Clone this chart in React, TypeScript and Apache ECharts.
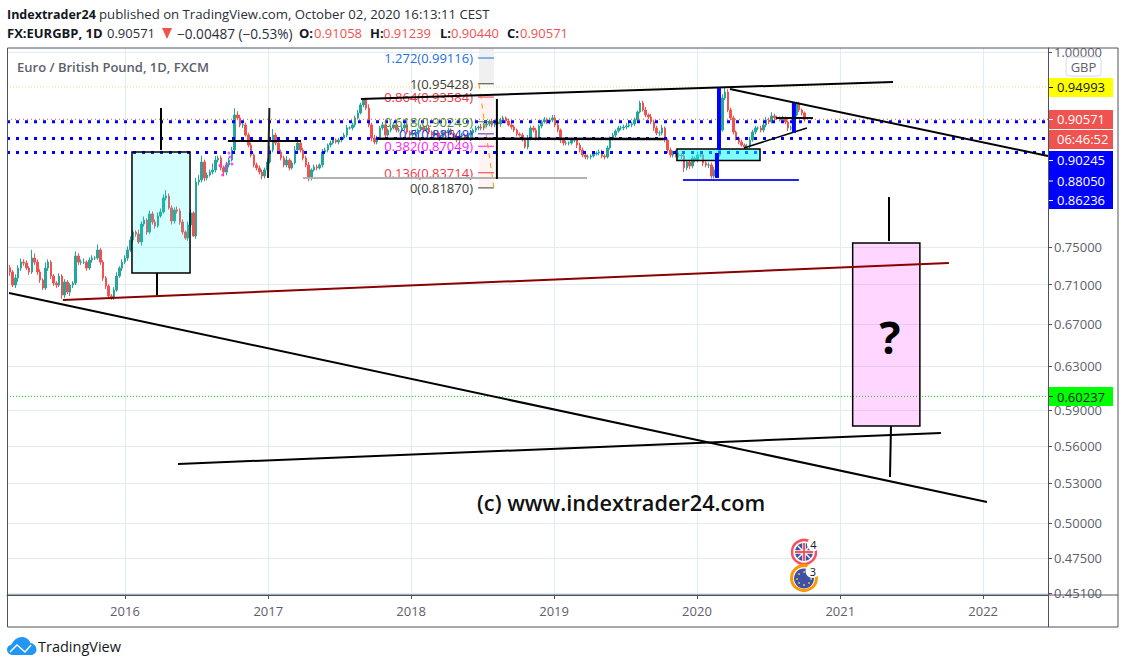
import React, { useEffect, useRef } from "react";
import * as echarts from "echarts";

const DAY = 86400000;
// chart drawings are kept in decimal years, the axis wants ms
const yr = (y: number) => Date.UTC(2016, 0, 1) + (y - 2016) * 365.25 * DAY;

const firstBar = Date.UTC(2015, 2, 13);

// weekly closes
const closes = [
  0.7234, 0.7096, 0.717, 0.7276, 0.734, 0.733, 0.7276, 0.7234,
  0.7384, 0.734, 0.7234, 0.7149, 0.7066, 0.7276, 0.734, 0.7191,
  0.7117, 0.7096, 0.7191, 0.6993, 0.7128, 0.7024, 0.7096, 0.7117,
  0.7406, 0.734, 0.734, 0.734, 0.7276, 0.7362, 0.7384, 0.7384,
  0.7472, 0.734, 0.717, 0.7086, 0.6983, 0.6973, 0.7045, 0.7191,
  0.7276, 0.734, 0.7384, 0.7472, 0.7583, 0.7672, 0.765, 0.7561,
  0.7763, 0.7809, 0.7672, 0.7879, 0.7786, 0.7741, 0.7856, 0.7903,
  0.8067, 0.809, 0.7949, 0.7798, 0.7926, 0.7914, 0.7786, 0.7672,
  0.7605, 0.7752, 0.7891, 0.7628, 0.8259, 0.8283, 0.8505, 0.8308,
  0.8344, 0.8381, 0.8406, 0.853, 0.8555, 0.8431, 0.8381, 0.8468,
  0.853, 0.8657, 0.9115, 0.9075, 0.8982, 0.8982, 0.8849, 0.872,
  0.8593, 0.8468, 0.8431, 0.8381, 0.8332, 0.8406, 0.8505, 0.8657,
  0.8849, 0.8746, 0.8631, 0.8555, 0.8468, 0.853, 0.8431, 0.8493,
  0.8657, 0.8746, 0.8657, 0.8555, 0.8468, 0.8308, 0.8406, 0.8443,
  0.8431, 0.8468, 0.8631, 0.8657, 0.872, 0.8746, 0.8785, 0.8759,
  0.8785, 0.881, 0.8849, 0.8942, 0.8942, 0.8982, 0.9075, 0.9142,
  0.925, 0.9318, 0.9209, 0.8982, 0.881, 0.8759, 0.881, 0.8942,
  0.8982, 0.8849, 0.8915, 0.8942, 0.8982, 0.8915, 0.8915, 0.8942,
  0.8982, 0.8889, 0.8849, 0.8862, 0.8889, 0.8915, 0.8955, 0.8915,
  0.8942, 0.8889, 0.8849, 0.8876, 0.8849, 0.8823, 0.8889, 0.8876,
  0.8915, 0.8876, 0.8823, 0.8785, 0.8836, 0.8849, 0.881, 0.8849,
  0.8876, 0.8915, 0.8942, 0.8955, 0.8942, 0.8982, 0.8995, 0.9022,
  0.8982, 0.9022, 0.8995, 0.9048, 0.9075, 0.9035, 0.8982, 0.8955,
  0.8915, 0.8862, 0.8849, 0.8785, 0.8695, 0.881, 0.8942, 0.8915,
  0.881, 0.8968, 0.9022, 0.9048, 0.9022, 0.9048, 0.9075, 0.8982,
  0.8915, 0.8785, 0.8746, 0.8746, 0.8746, 0.8785, 0.8785, 0.872,
  0.8657, 0.8593, 0.8568, 0.8568, 0.8581, 0.8606, 0.8619, 0.8631,
  0.8581, 0.8568, 0.8682, 0.881, 0.8849, 0.8902, 0.8942, 0.8942,
  0.8955, 0.8968, 0.8982, 0.8995, 0.9048, 0.9155, 0.9277, 0.9182,
  0.9115, 0.9088, 0.9022, 0.8942, 0.8876, 0.8876, 0.8942, 0.8785,
  0.8657, 0.8593, 0.8619, 0.8593, 0.8593, 0.8581, 0.8431, 0.8505,
  0.8456, 0.8555, 0.853, 0.8593, 0.8593, 0.8493, 0.8468, 0.8468,
  0.8332, 0.8406, 0.8593, 0.8915, 0.9346, 0.9428, 0.9182, 0.9075,
  0.8889, 0.881, 0.8759, 0.872, 0.8695, 0.8707, 0.8785, 0.8889,
  0.8942, 0.8942, 0.8915, 0.8982, 0.9048, 0.9022, 0.9102, 0.9075,
  0.9075, 0.9048, 0.9075, 0.9022, 0.8942, 0.8942, 0.9115, 0.9264,
  0.9182, 0.9142, 0.90571,
];

// wick lengths above / below the body, in thousandths of a pound
const upWicks = [
  3, 2, 4, 3, 4, 3, 3, 2, 9, 5, 3, 3, 2, 6, 3, 2,
  2, 2, 3, 2, 3, 2, 2, 2, 5, 3, 3, 4, 2, 3, 3, 2,
  6, 2, 2, 2, 2, 2, 3, 4, 2, 3, 3, 4, 4, 2, 2, 5,
  3, 4, 2, 4, 3, 3, 4, 4, 4, 7, 3, 3, 3, 4, 3, 3,
  2, 4, 4, 2, 5, 6, 8, 3, 3, 3, 8, 5, 3, 3, 3, 4,
  3, 4, 9, 5, 4, 4, 3, 3, 3, 2, 3, 3, 3, 3, 4, 5,
  8, 3, 3, 3, 3, 5, 2, 3, 5, 3, 3, 3, 3, 4, 2, 3,
  3, 2, 4, 3, 2, 3, 3, 2, 3, 2, 3, 4, 2, 3, 3, 4,
  3, 2, 3, 5, 3, 4, 3, 3, 4, 3, 2, 3, 4, 2, 3, 3,
  3, 3, 2, 4, 3, 2, 3, 2, 3, 4, 2, 3, 3, 3, 2, 2,
  3, 2, 3, 4, 2, 3, 2, 3, 3, 2, 3, 2, 4, 3, 2, 3,
  4, 3, 2, 3, 3, 2, 3, 3, 3, 2, 2, 3, 3, 4, 3, 3,
  3, 2, 3, 4, 3, 3, 4, 4, 3, 2, 3, 3, 2, 3, 3, 2,
  3, 3, 2, 3, 2, 3, 2, 3, 3, 2, 3, 2, 3, 2, 3, 3,
  3, 4, 6, 3, 3, 2, 3, 3, 4, 2, 4, 3, 3, 3, 4, 2,
  2, 3, 3, 4, 3, 2, 3, 2, 3, 3, 2, 4, 3, 2, 2, 3,
  3, 4, 3, 6, 5, 6, 4, 3, 3, 2, 2, 3, 2, 3, 4, 3,
  3, 2, 3, 4, 4, 3, 5, 3, 3, 2, 3, 2, 2, 3, 4, 3,
  3, 2, 2,
];
const downWicks = [
  4, 2, 3, 4, 3, 3, 2, 3, 2, 3, 3, 3, 2, 2, 3, 3,
  3, 3, 2, 4, 3, 2, 4, 3, 2, 3, 3, 2, 3, 2, 3, 2,
  2, 3, 3, 3, 3, 3, 3, 2, 2, 3, 2, 3, 2, 3, 3, 2,
  4, 3, 3, 2, 3, 3, 2, 2, 2, 3, 2, 4, 3, 3, 3, 3,
  2, 3, 3, 1, 3, 4, 3, 4, 3, 2, 3, 3, 3, 3, 5, 4,
  3, 2, 2, 3, 3, 4, 2, 3, 3, 3, 3, 3, 4, 3, 3, 2,
  3, 3, 2, 3, 3, 3, 3, 2, 2, 3, 3, 3, 3, 4, 3, 2,
  3, 2, 3, 2, 3, 3, 2, 2, 3, 3, 2, 3, 2, 3, 3, 2,
  2, 3, 3, 3, 4, 3, 3, 2, 3, 3, 2, 3, 2, 3, 3, 3,
  3, 3, 4, 2, 3, 3, 2, 3, 3, 3, 3, 2, 3, 5, 3, 3,
  3, 3, 4, 3, 3, 2, 3, 2, 3, 2, 3, 3, 3, 3, 3, 3,
  3, 3, 2, 4, 4, 3, 2, 3, 3, 3, 2, 2, 2, 3, 3, 3,
  3, 3, 3, 2, 3, 3, 3, 3, 3, 4, 3, 3, 3, 2, 3, 4,
  3, 3, 3, 3, 3, 2, 2, 3, 3, 3, 2, 2, 3, 3, 2, 3,
  3, 3, 2, 3, 3, 3, 2, 2, 3, 3, 3, 4, 3, 4, 3, 3,
  4, 3, 3, 3, 3, 4, 5, 3, 4, 3, 3, 3, 3, 4, 3, 4,
  3, 3, 4, 2, 2, 3, 3, 3, 3, 3, 3, 2, 3, 3, 3, 2,
  3, 3, 3, 3, 3, 3, 2, 3, 3, 2, 3, 3, 4, 3, 3, 2,
  3, 3, 3,
];

const priceTicks = [1, 0.75, 0.71, 0.67, 0.63, 0.59, 0.56, 0.53, 0.5, 0.475, 0.451];
const yearTicks = [2016, 2017, 2018, 2019, 2020, 2021, 2022];

// levels drawn across the whole pane
const blueLevels = [0.90245, 0.8805, 0.86236];
const lastPrice = 0.90571;
const yellowLevel = 0.94993;
const greenLevel = 0.60237;

// fib retracement: ratio, price, colour
const fibRatios = ["1.272", "1", "0.864", "0.618", "0.5", "0.382", "0.136", "0"];
const fibPrices = [0.99116, 0.95428, 0.93584, 0.90249, 0.88649, 0.87049, 0.83714, 0.8187];
const fibColors = ["#1e6fdc", "#3c3c3c", "#f23645", "#4c8a3a", "#2a2ee0", "#ff22ee", "#f23645", "#3c3c3c"];

// hand drawn trend lines [year, price]
const topTrend = [[2017.65, 0.9332], [2021.371, 0.9568]];
const fallingTrend = [[2020.231, 0.947], [2022.455, 0.8581]];
const longTrend = [[2015.189, 0.7014], [2022.028, 0.5157]];
const redTrend = [[2015.566, 0.6942], [2021.762, 0.733]];
const lowerTrend = [[2016.371, 0.5453], [2021.706, 0.5707]];
const thinTrend = [[2020.329, 0.8682], [2020.769, 0.8942]];
const wickA = [[2016.252, 0.9209], [2016.252, 0.8657]];
const wickB = [[2016.224, 0.7223], [2016.224, 0.6993]];
const crossH = [[2016.72, 0.8772], [2017.231, 0.8772]];
const crossV = [[2017.01, 0.9209], [2017.0, 0.8308]];
const greyLine = [[2017.245, 0.8308], [2019.231, 0.8308]];
const midLine = [[2017.769, 0.8802], [2019.769, 0.8798]];
const fibStem = [[2018.601, 0.9332], [2018.601, 0.8295]];
const blueBarA = [[2020.154, 0.9484], [2020.154, 0.8657]];
const blueBarB = [[2020.14, 0.8619], [2020.14, 0.8308]];
const blueBarC = [[2020.678, 0.9277], [2020.678, 0.8876]];
const blueFloor = [[2019.902, 0.8283], [2020.713, 0.8283]];
const shortLine = [[2020.552, 0.9075], [2020.811, 0.9075]];
const wickC = [[2021.343, 0.8078], [2021.343, 0.7571]];
const wickD = [[2021.357, 0.5767], [2021.35, 0.535]];

// boxes: year from, year to, price top, price bottom
const cyanBox = [2016.049, 2016.455, 0.8631, 0.7223];
const tealBox = [2019.86, 2020.441, 0.867, 0.8524];
const pinkBox = [2021.089, 2021.559, 0.7549, 0.5767];

const magentaDots = [
  [2016.664, 0.846], [2016.683, 0.8344], [2016.699, 0.8431], [2016.713, 0.8481],
  [2016.748, 0.8481], [2016.734, 0.8568], [2016.727, 0.8619],
];

const FONT = "'Open Sans', 'Noto Sans', sans-serif";
const AXIS_COLOR = "#4c525e";
const TEXT_COLOR = "#5d606b";
const GRID_COLOR = "#e1ecf2";
const RED = "#ef5350";

echarts.graphic.registerShape(
  "tvCloud",
  echarts.graphic.extendPath(
    "M6 18C2.5 18 0 15.5 0 12.5C0 10 2 8 4.5 7.5C6.5 3 10.5 0 15 0C19 0 22 2.5 23.5 6C27 6.5 29.500 9.500 29.500 12.500C29.500 15.500 27 18 24 18Z",
    {}
  )
);

const line = (data: number[][], color: string, width: number, z = 6, type: any = "solid") => ({
  type: "line",
  data: data.map((p) => [yr(p[0]), p[1]]),
  showSymbol: false,
  silent: true,
  z,
  lineStyle: { color, width, type },
});

const level = (price: number, color: string, width: number, dash: number[], z = 4) =>
  line([[2015.175, price], [2022.455, price]], color, width, z, dash);

const box = (b: number[], fill: string, z: number, stroke: string = "#000000") => ({
  type: "custom",
  silent: true,
  z,
  data: [[yr(b[0]), yr(b[1]), b[2], b[3]]],
  encode: { x: [0, 1], y: [2, 3] },
  renderItem: (_p: any, api: any) => {
    const a = api.coord([api.value(0), api.value(2)]);
    const c = api.coord([api.value(1), api.value(3)]);
    return {
      type: "rect",
      shape: { x: a[0], y: a[1], width: c[0] - a[0], height: c[1] - a[1] },
      style: { fill, stroke, lineWidth: 1.5 },
    };
  },
});

const label = (text: string, x: number, y: number, style: any = {}) => ({
  type: "text",
  x,
  y,
  z: 120,
  style: { text, font: `13px ${FONT}`, fill: "#2a2e39", verticalAlign: "middle", ...style },
});

const priceTag = (text: string, y: number, fill: string) =>
  label(text, 1057, y, { fill, font: `13px ${FONT}` });

const tagTick = (y: number, stroke: string) => ({
  type: "line",
  z: 115,
  shape: { x1: 1049, y1: y, x2: 1053, y2: y },
  style: { stroke, lineWidth: 1 },
});

const App = () => {
  const chartRef = useRef<HTMLDivElement>(null);

  useEffect(() => {
    if (!chartRef.current) return;
    const chart = echarts.init(chartRef.current, undefined, { renderer: "svg" });

    const bars = closes.map((close, i) => {
      const open = i === 0 ? 0.728 : closes[i - 1];
      return [
        firstBar + i * 7 * DAY,
        open,
        close,
        Math.min(open, close) - downWicks[i] / 1000,
        Math.max(open, close) + upWicks[i] / 1000,
      ];
    });

    const option: any = {
      animation: false,
      grid: { left: 7, right: 78, top: 48, bottom: 72, containLabel: false },
      xAxis: {
        type: "value",
        min: yr(2015.175),
        max: yr(2022.455),
        axisLine: { show: true, onZero: false, lineStyle: { color: AXIS_COLOR } },
        axisTick: {
          show: true,
          length: 4,
          lineStyle: { color: AXIS_COLOR },
          customValues: yearTicks.map((y) => Date.UTC(y, 0, 1)),
        },
        axisLabel: {
          color: TEXT_COLOR,
          fontFamily: FONT,
          fontSize: 13,
          fontWeight: 500,
          margin: 9,
          customValues: yearTicks.map((y) => Date.UTC(y, 0, 1)),
          formatter: (v: number) => String(new Date(v).getUTCFullYear()),
        },
        splitLine: { show: true, lineStyle: { color: GRID_COLOR, width: 1 } },
      },
      yAxis: {
        type: "log",
        logBase: 10,
        position: "right",
        min: 0.4497,
        max: 1.0059,
        axisLine: { show: true, lineStyle: { color: AXIS_COLOR } },
        axisTick: { show: true, length: 4, lineStyle: { color: AXIS_COLOR }, customValues: priceTicks },
        axisLabel: {
          color: TEXT_COLOR,
          fontFamily: FONT,
          fontSize: 13,
          margin: 6,
          customValues: priceTicks,
          formatter: (v: number) => v.toFixed(5),
        },
        splitLine: { show: true, lineStyle: { color: GRID_COLOR, width: 1 } },
      },
      series: [
        {
          type: "candlestick",
          data: bars,
          barWidth: 2,
          silent: true,
          z: 2,
          itemStyle: {
            color: "#26a69a",
            color0: RED,
            borderColor: "#26a69a",
            borderColor0: RED,
            borderWidth: 1,
          },
        },
        // fib background
        box([2018.476, 2018.58, 1.0059, 0.95428], "#f0f0f0", 1, "none"),
        box([2018.476, 2018.58, 0.93584, 0.8187], "#fff3f3", 1, "none"),
        {
          type: "custom",
          silent: true,
          z: 5,
          data: fibPrices.map((p) => [yr(2018.469), yr(2018.58), p]),
          encode: { x: [0, 1], y: 2 },
          renderItem: (p: any, api: any) => {
            const a = api.coord([api.value(0), api.value(2)]);
            const b = api.coord([api.value(1), api.value(2)]);
            const color = fibColors[p.dataIndex];
            return {
              type: "group",
              children: [
                { type: "line", shape: { x1: a[0], y1: a[1], x2: b[0], y2: b[1] }, style: { stroke: color, lineWidth: 1 } },
                {
                  type: "text",
                  style: {
                    text: `${fibRatios[p.dataIndex]}(${fibPrices[p.dataIndex].toFixed(5)})`,
                    x: a[0] - 5,
                    y: a[1],
                    align: "right",
                    verticalAlign: "middle",
                    fill: color,
                    font: `13px ${FONT}`,
                  },
                },
              ],
            };
          },
        },
        line([[2018.476, 0.95428], [2018.58, 0.8187]], "#ff9800", 1, 5, [5, 5]),
        level(lastPrice, RED, 1, [1, 3], 3),
        level(yellowLevel, "#e6e65a", 1, [1, 2], 3),
        level(greenLevel, "#00e000", 1, [1, 2], 3),
        ...blueLevels.map((p) => level(p, "#0000ff", 3, [3, 6])),
        box(cyanBox, "rgba(0,255,255,0.16)", 5),
        box(tealBox, "rgba(0,255,255,0.5)", 5),
        box(pinkBox, "rgba(255,0,255,0.16)", 5),
        line(topTrend, "#000000", 2),
        line(fallingTrend, "#000000", 2),
        line(longTrend, "#000000", 2),
        line(redTrend, "#8b0000", 2),
        line(lowerTrend, "#000000", 2),
        line(thinTrend, "#000000", 1.5),
        line(wickA, "#000000", 2),
        line(wickB, "#000000", 2),
        line(wickC, "#000000", 2),
        line(wickD, "#000000", 2),
        line(crossH, "#000000", 2),
        line(crossV, "#222222", 2),
        line(greyLine, "#b2b2b2", 2),
        line(midLine, "#000000", 2.5),
        line(fibStem, "#000000", 2),
        line(blueBarA, "#0000ff", 4),
        line(blueBarB, "#0000ff", 4),
        line(blueBarC, "#0000ff", 4),
        line(blueFloor, "#2222ee", 2),
        line(shortLine, "#111111", 2),
        {
          type: "scatter",
          silent: true,
          z: 3,
          symbolSize: 3,
          itemStyle: { color: "#ff22ee" },
          data: magentaDots.map((p) => [yr(p[0]), p[1]]),
        },
        {
          type: "custom",
          silent: true,
          z: 7,
          data: [[yr(2021.35), 0.657]],
          encode: { x: 0, y: 1 },
          renderItem: (_p: any, api: any) => {
            const c = api.coord([api.value(0), api.value(1)]);
            return {
              type: "text",
              style: {
                text: "?",
                x: c[0],
                y: c[1],
                align: "center",
                verticalAlign: "middle",
                fill: "#000000",
                font: `bold 44px ${FONT}`,
              },
            };
          },
        },
      ],
      graphic: [
        // frame round pane and axes
        {
          type: "rect",
          z: 90,
          shape: { x: 7.5, y: 48, width: 1110.5, height: 579 },
          style: { fill: "none", stroke: AXIS_COLOR, lineWidth: 1 },
        },
        { type: "line", z: 90, shape: { x1: 7.5, y1: 595, x2: 1118, y2: 595 }, style: { stroke: AXIS_COLOR } },
        { type: "line", z: 90, shape: { x1: 1048.5, y1: 48, x2: 1048.5, y2: 627 }, style: { stroke: AXIS_COLOR } },

        label("Indextrader24", 7, 14, { font: `bold 12.5px ${FONT}`, fill: "#131722" }),
        label("published on TradingView.com, October 02, 2020 16:13:11 CEST", 99, 14, { font: `13.2px ${FONT}` }),
        label("FX:EURGBP, 1D", 7, 33, { font: `bold 13px ${FONT}`, fill: "#131722" }),
        label("0.90571", 107, 33),
        { type: "polygon", z: 120, shape: { points: [[162, 28], [172, 28], [167, 39]] }, style: { fill: "#ef5350" } },
        label("\u22120.00487 (\u22120.53%)", 177, 33, { font: `13.6px ${FONT}` }),
        label("O:", 299, 33, { font: `bold 13px ${FONT}`, fill: "#131722" }),
        label("0.91058", 314, 33, { fill: RED }),
        label("H:", 370, 33, { font: `bold 13px ${FONT}`, fill: "#131722" }),
        label("0.91239", 383, 33, { fill: RED }),
        label("L:", 440, 33, { font: `bold 13px ${FONT}`, fill: "#131722" }),
        label("0.90440", 451, 33, { fill: RED }),
        label("C:", 507, 33, { font: `bold 13px ${FONT}`, fill: "#131722" }),
        label("0.90571", 520, 33, { fill: RED }),
        label("Euro / British Pound, 1D, FXCM", 17, 67, { font: `600 13px ${FONT}`, fill: TEXT_COLOR }),
        label("(c) www.indextrader24.com", 477, 502, { font: `600 21.7px ${FONT}`, fill: "#111111" }),

        // currency button
        {
          type: "rect",
          z: 110,
          shape: { x: 1066, y: 57, width: 35, height: 19, r: 3 },
          style: { fill: "#ffffff", stroke: "#d6dae0", lineWidth: 1 },
        },
        label("GBP", 1083.5, 66.5, { align: "center", fill: TEXT_COLOR }),

        // price tags
        { type: "rect", z: 110, shape: { x: 1049, y: 78, width: 64, height: 19 }, style: { fill: "#ffff00" } },
        priceTag("0.94993", 87, "#131722"),
        tagTick(87.5, "#131722"),
        { type: "rect", z: 110, shape: { x: 1049, y: 110, width: 64, height: 19 }, style: { fill: RED } },
        priceTag("0.90571", 119, "#ffffff"),
        tagTick(119.5, "#ffffff"),
        { type: "rect", z: 110, shape: { x: 1049, y: 130, width: 64, height: 19 }, style: { fill: RED } },
        priceTag("06:46:52", 139, "#ffffff"),
        { type: "rect", z: 110, shape: { x: 1049, y: 151, width: 64, height: 58 }, style: { fill: "#0000ff" } },
        priceTag("0.90245", 160, "#ffffff"),
        tagTick(160.5, "#ffffff"),
        priceTag("0.88050", 180.5, "#ffffff"),
        tagTick(181, "#ffffff"),
        priceTag("0.86236", 200, "#ffffff"),
        tagTick(200.5, "#ffffff"),
        { type: "rect", z: 110, shape: { x: 1049, y: 387, width: 64, height: 19 }, style: { fill: "#00ff00" } },
        priceTag("0.60237", 396.5, "#131722"),
        tagTick(396.5, "#131722"),

        // UK event marker
        { type: "circle", z: 100, shape: { cx: 804, cy: 552, r: 12 }, style: { fill: "#ffffff", stroke: "#f7525f", lineWidth: 2.5 } },
        { type: "circle", z: 101, shape: { cx: 804, cy: 552, r: 9 }, style: { fill: "#3f51a5" } },
        { type: "line", z: 102, shape: { x1: 798, y1: 546, x2: 810, y2: 558 }, style: { stroke: "#ffffff", lineWidth: 1.5 } },
        { type: "line", z: 102, shape: { x1: 810, y1: 546, x2: 798, y2: 558 }, style: { stroke: "#ffffff", lineWidth: 1.5 } },
        { type: "line", z: 103, shape: { x1: 795, y1: 552, x2: 813, y2: 552 }, style: { stroke: "#ffffff", lineWidth: 3.5 } },
        { type: "line", z: 103, shape: { x1: 804, y1: 543, x2: 804, y2: 561 }, style: { stroke: "#ffffff", lineWidth: 3.5 } },
        { type: "line", z: 104, shape: { x1: 795, y1: 552, x2: 813, y2: 552 }, style: { stroke: "#f7525f", lineWidth: 2 } },
        { type: "line", z: 104, shape: { x1: 804, y1: 543, x2: 804, y2: 561 }, style: { stroke: "#f7525f", lineWidth: 2 } },
        { type: "circle", z: 105, shape: { cx: 813.5, cy: 544.5, r: 6.5 }, style: { fill: "#ffffff" } },
        label("4", 813.5, 544, { align: "center", font: `11px ${FONT}`, fill: "#131722" }),

        // EU event marker
        { type: "circle", z: 100, shape: { cx: 804, cy: 578, r: 12.5 }, style: { fill: "#ffffff", stroke: "#ff9800", lineWidth: 3 } },
        { type: "circle", z: 101, shape: { cx: 804, cy: 578.5, r: 10 }, style: { fill: "#3f51a5" } },
        ...[[804, 572], [809, 574], [811, 579], [809, 583], [804, 585], [799, 583], [797, 579], [799, 574]].map((s) => ({
          type: "circle",
          z: 102,
          shape: { cx: s[0], cy: s[1], r: 0.8 },
          style: { fill: "#ffd54f" },
        })),
        { type: "circle", z: 105, shape: { cx: 812.5, cy: 571, r: 7 }, style: { fill: "#ffffff" } },
        label("3", 813, 571, { align: "center", font: `11px ${FONT}`, fill: "#131722" }),

        // TradingView logo
        { type: "tvCloud", x: 7, y: 637, z: 100, style: { fill: "#2196f3" } },
        {
          type: "polyline",
          z: 101,
          shape: { points: [[10, 652], [17, 645], [25, 652], [31, 645]] },
          style: { fill: "none", stroke: "#ffffff", lineWidth: 1.5 },
        },
        label("TradingView", 38, 646, { font: `14.5px ${FONT}`, fill: "#131722" }),
      ],
    };

    chart.setOption(option);
    return () => chart.dispose();
  }, []);

  return <div ref={chartRef} style={{ position: "absolute", left: 0, top: 0, width: 1126, height: 667 }} />;
};

export default App;
